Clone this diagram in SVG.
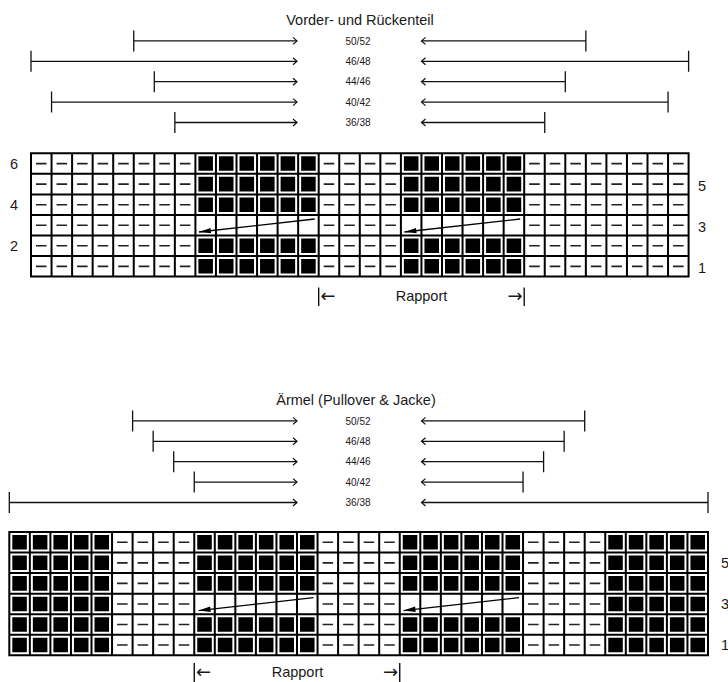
<svg xmlns="http://www.w3.org/2000/svg" width="728" height="682" viewBox="0 0 728 682">
<style>
text{font-family:"Liberation Sans","DejaVu Sans",Arial,sans-serif;fill:#1a1a1a}
.t{font-size:14.5px}
.ar{font-family:"DejaVu Sans",sans-serif;font-size:18px}
.s{font-size:10px;text-anchor:middle}
.m{text-anchor:middle}
.grid{fill:none;stroke:#000;stroke-width:2;stroke-linecap:square}
.dash{fill:none;stroke:#222;stroke-width:1.6;stroke-dasharray:10.55 10}
.sq{fill:none;stroke:#000;stroke-width:14.55;stroke-dasharray:14.55 6}
.dim{fill:none;stroke:#111;stroke-width:1.3;marker-end:url(#ch)}
.arr{fill:none;stroke:#000;stroke-width:1.3;marker-end:url(#ah)}
.bar{fill:none;stroke:#000;stroke-width:1.3}
</style>
<defs>
<marker id="ch" markerUnits="userSpaceOnUse" markerWidth="8" markerHeight="10" refX="5" refY="4" orient="auto" overflow="visible"><path d="M1,0.5 L5,4 L1,7.5" fill="none" stroke="#111" stroke-width="1.2"/></marker>
<marker id="ah" markerUnits="userSpaceOnUse" markerWidth="14" markerHeight="8" refX="12" refY="4" orient="auto" overflow="visible"><path d="M0,1.3 L12,4 L0,6.7 z" fill="#000"/></marker>
</defs>

<g id="top-title"><text class="t m" x="360" y="25">Vorder- und Rückenteil</text></g>
<g id="top-dims">
<path class="dim" d="M133.75,30.4V51.4M133.75,40.9H297"/>
<path class="dim" d="M585.85,30.4V51.4M585.85,40.9H421.5"/>
<text class="s" x="358" y="44.5">50/52</text>
<path class="dim" d="M31,50.8V71.8M31,61.3H297"/>
<path class="dim" d="M688.6,50.8V71.8M688.6,61.3H421.5"/>
<text class="s" x="358" y="64.9">46/48</text>
<path class="dim" d="M154.3,71.2V92.2M154.3,81.7H297"/>
<path class="dim" d="M565.3,71.2V92.2M565.3,81.7H421.5"/>
<text class="s" x="358" y="85.3">44/46</text>
<path class="dim" d="M51.55,91.6V112.6M51.55,102.1H297"/>
<path class="dim" d="M668.05,91.6V112.6M668.05,102.1H421.5"/>
<text class="s" x="358" y="105.7">40/42</text>
<path class="dim" d="M174.85,112V133M174.85,122.5H297"/>
<path class="dim" d="M544.75,112V133M544.75,122.5H421.5"/>
<text class="s" x="358" y="126.1">36/38</text>
</g>

<g id="top-chart">
<path class="dash" d="M36,163.575H190.4M323.7,163.575H395.9M529.2,163.575H683.6
M36,184.125H190.4M323.7,184.125H395.9M529.2,184.125H683.6
M36,204.675H190.4M323.7,204.675H395.9M529.2,204.675H683.6
M36,225.225H190.4M323.7,225.225H395.9M529.2,225.225H683.6
M36,245.775H190.4M323.7,245.775H395.9M529.2,245.775H683.6
M36,266.325H190.4M323.7,266.325H395.9M529.2,266.325H683.6"/>
<path class="sq" d="M198.4,163.575H315.7M403.9,163.575H521.2
M198.4,184.125H315.7M403.9,184.125H521.2
M198.4,204.675H315.7M403.9,204.675H521.2
M198.4,245.775H315.7M403.9,245.775H521.2
M198.4,266.325H315.7M403.9,266.325H521.2"/>
<path class="grid" d="M31,153.3V276.6M51.55,153.3V276.6M72.1,153.3V276.6M92.65,153.3V276.6M113.2,153.3V276.6M133.75,153.3V276.6M154.3,153.3V276.6M174.85,153.3V276.6M195.4,153.3V276.6M215.95,153.3V276.6M236.5,153.3V276.6M257.05,153.3V276.6M277.6,153.3V276.6M298.15,153.3V276.6M318.7,153.3V276.6M339.25,153.3V276.6M359.8,153.3V276.6M380.35,153.3V276.6M400.9,153.3V276.6M421.45,153.3V276.6M442,153.3V276.6M462.55,153.3V276.6M483.1,153.3V276.6M503.65,153.3V276.6M524.2,153.3V276.6M544.75,153.3V276.6M565.3,153.3V276.6M585.85,153.3V276.6M606.4,153.3V276.6M626.95,153.3V276.6M647.5,153.3V276.6M668.05,153.3V276.6M688.6,153.3V276.6
M31,153.3H688.6M31,173.85H688.6M31,194.4H688.6M31,214.95H688.6M31,235.5H688.6M31,256.05H688.6M31,276.6H688.6"/>
<path class="arr" d="M314.7,219L198.9,232"/>
<path class="arr" d="M520.2,219L404.4,232"/>
<text class="t m" x="14" y="169">6</text>
<text class="t m" x="14" y="210">4</text>
<text class="t m" x="14" y="251">2</text>
<text class="t m" x="702" y="190.5">5</text>
<text class="t m" x="702" y="231.5">3</text>
<text class="t m" x="702" y="272.5">1</text>
</g>

<g id="top-rapport">
<path class="bar" d="M318.7,287.5V306M524.2,287.5V306"/>
<text class="ar" x="320.5" y="302">←</text>
<text class="t m" x="421.5" y="301">Rapport</text>
<text class="ar" x="522.5" y="302" text-anchor="end">→</text>
</g>

<g id="bottom-title"><text class="t m" x="356" y="405">Ärmel (Pullover &amp; Jacke)</text></g>
<g id="bottom-dims">
<path class="dim" d="M132.6,410.4V431.4M132.6,420.9H297"/>
<path class="dim" d="M584.7,410.4V431.4M584.7,420.9H421.5"/>
<text class="s" x="358" y="424.5">50/52</text>
<path class="dim" d="M153.15,430.8V451.8M153.15,441.3H297"/>
<path class="dim" d="M564.15,430.8V451.8M564.15,441.3H421.5"/>
<text class="s" x="358" y="444.9">46/48</text>
<path class="dim" d="M173.7,451.2V472.2M173.7,461.7H297"/>
<path class="dim" d="M543.6,451.2V472.2M543.6,461.7H421.5"/>
<text class="s" x="358" y="465.3">44/46</text>
<path class="dim" d="M194.25,471.6V492.6M194.25,482.1H297"/>
<path class="dim" d="M523.05,471.6V492.6M523.05,482.1H421.5"/>
<text class="s" x="358" y="485.7">40/42</text>
<path class="dim" d="M9.3,492V513M9.3,502.5H297"/>
<path class="dim" d="M708,492V513M708,502.5H421.5"/>
<text class="s" x="358" y="506.1">36/38</text>
</g>

<g id="bottom-chart">
<path class="dash" d="M117.05,542.275H189.25M322.55,542.275H394.75M528.05,542.275H600.25
M117.05,562.825H189.25M322.55,562.825H394.75M528.05,562.825H600.25
M117.05,583.375H189.25M322.55,583.375H394.75M528.05,583.375H600.25
M117.05,603.925H189.25M322.55,603.925H394.75M528.05,603.925H600.25
M117.05,624.475H189.25M322.55,624.475H394.75M528.05,624.475H600.25
M117.05,645.025H189.25M322.55,645.025H394.75M528.05,645.025H600.25"/>
<path class="sq" d="M12.3,542.275H109.05M608.25,542.275H705M197.25,542.275H314.55M402.75,542.275H520.05
M12.3,562.825H109.05M608.25,562.825H705M197.25,562.825H314.55M402.75,562.825H520.05
M12.3,583.375H109.05M608.25,583.375H705M197.25,583.375H314.55M402.75,583.375H520.05
M12.3,603.925H109.05M608.25,603.925H705
M12.3,624.475H109.05M608.25,624.475H705M197.25,624.475H314.55M402.75,624.475H520.05
M12.3,645.025H109.05M608.25,645.025H705M197.25,645.025H314.55M402.75,645.025H520.05"/>
<path class="grid" d="M9.3,532V655.3M29.85,532V655.3M50.4,532V655.3M70.95,532V655.3M91.5,532V655.3M112.05,532V655.3M132.6,532V655.3M153.15,532V655.3M173.7,532V655.3M194.25,532V655.3M214.8,532V655.3M235.35,532V655.3M255.9,532V655.3M276.45,532V655.3M297,532V655.3M317.55,532V655.3M338.1,532V655.3M358.65,532V655.3M379.2,532V655.3M399.75,532V655.3M420.3,532V655.3M440.85,532V655.3M461.4,532V655.3M481.95,532V655.3M502.5,532V655.3M523.05,532V655.3M543.6,532V655.3M564.15,532V655.3M584.7,532V655.3M605.25,532V655.3M625.8,532V655.3M646.35,532V655.3M666.9,532V655.3M687.45,532V655.3M708,532V655.3
M9.3,532H708M9.3,552.55H708M9.3,573.1H708M9.3,593.65H708M9.3,614.2H708M9.3,634.75H708M9.3,655.3H708"/>
<path class="arr" d="M313.5,597.6L198.5,610.6"/>
<path class="arr" d="M519,597.6L403.5,610.6"/>
<text class="t" x="721" y="568">5</text>
<text class="t" x="721" y="609">3</text>
<text class="t" x="721" y="650">1</text>
</g>

<g id="bottom-rapport">
<path class="bar" d="M194.25,663V682M399.75,663V682"/>
<text class="ar" x="196" y="678">←</text>
<text class="t m" x="297.5" y="677">Rapport</text>
<text class="ar" x="398" y="678" text-anchor="end">→</text>
</g>
</svg>
